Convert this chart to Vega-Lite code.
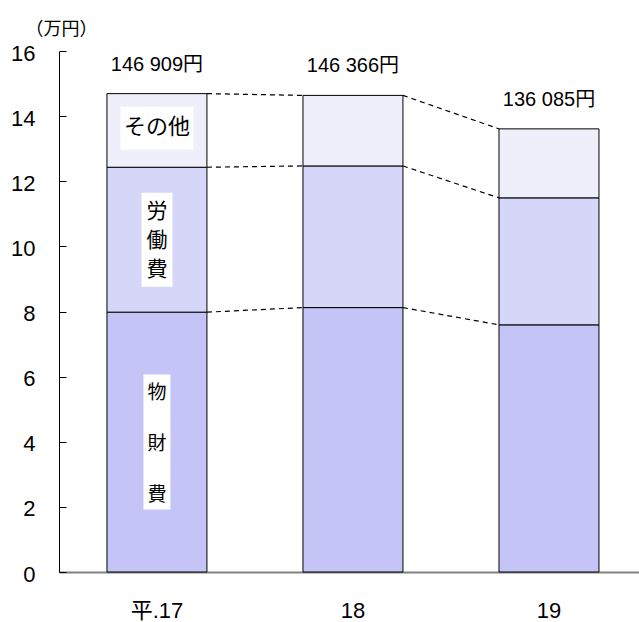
{
  "$schema": "https://vega.github.io/schema/vega-lite/v6.json",
  "width": 580,
  "height": 521,
  "autosize": {"type": "none"},
  "padding": {"left": 59, "top": 51, "right": 0, "bottom": 50},
  "background": "white",
  "config": {
    "view": {"stroke": null},
    "axis": {"grid": false},
    "axisY": {"titleFont": "Noto Sans CJK JP", "titleFontSize": 18, "titleFontWeight": "normal", "titleColor": "black"}
  },
  "datasets": {
    "costs": [
      {"year": 17, "item": "物財費", "order": 1, "value": 7.98},
      {"year": 17, "item": "労働費", "order": 2, "value": 4.45},
      {"year": 17, "item": "その他", "order": 3, "value": 2.2609},
      {"year": 18, "item": "物財費", "order": 1, "value": 8.12},
      {"year": 18, "item": "労働費", "order": 2, "value": 4.35},
      {"year": 18, "item": "その他", "order": 3, "value": 2.1666},
      {"year": 19, "item": "物財費", "order": 1, "value": 7.59},
      {"year": 19, "item": "労働費", "order": 2, "value": 3.9},
      {"year": 19, "item": "その他", "order": 3, "value": 2.1185}
    ],
    "totals": [
      {"year": 17, "total": 14.6909, "label": "146 909円"},
      {"year": 18, "total": 14.6366, "label": "146 366円"},
      {"year": 19, "total": 13.6085, "label": "136 085円"}
    ]
  },
  "layer": [
    {
      "data": {"name": "costs"},
      "mark": {"type": "bar", "stroke": "black", "strokeWidth": 1},
      "encoding": {
        "x": {
          "field": "year", "type": "ordinal",
          "scale": {"paddingInner": 0.49, "paddingOuter": 0.2245, "align": 0.545},
          "axis": {
            "title": null, "ticks": false, "labelAngle": 0,
            "labelExpr": "datum.value == 17 ? '平.17' : datum.label",
            "domainColor": "#808080", "domainWidth": 2,
            "labelFont": "Liberation Sans, Noto Sans CJK JP", "labelFontSize": 22,
            "labelColor": "black", "labelPadding": 28
          }
        },
        "y": {
          "field": "value", "type": "quantitative", "stack": "zero",
          "scale": {"domain": [0, 16], "nice": false},
          "axis": {
            "values": [0, 2, 4, 6, 8, 10, 12, 14, 16],
            "tickSize": -7, "tickColor": "black", "domainColor": "black",
            "labelFont": "Liberation Sans", "labelFontSize": 22, "labelColor": "black",
            "labelPadding": 31, "labelOffset": 2,
            "title": "（万円）", "titleAngle": 0, "titleX": 2, "titleY": -22,
            "titleAlign": "center", "titleBaseline": "middle",
            "titleFont": "Noto Sans CJK JP", "titleFontSize": 18, "titleFontWeight": "normal", "titleColor": "black"
          }
        },
        "color": {
          "field": "item", "type": "nominal", "legend": null,
          "scale": {"domain": ["物財費", "労働費", "その他"], "range": ["#c4c4f6", "#d6d6f9", "#efeffc"]}
        },
        "order": {"field": "order"}
      }
    },
    {
      "data": {"name": "costs"},
      "transform": [
        {"stack": "value", "groupby": ["year"], "sort": [{"field": "order"}], "as": ["y0", "y1"]},
        {"window": [{"op": "lead", "field": "y1", "as": "ny1"}, {"op": "lead", "field": "year", "as": "nyear"}], "groupby": ["item"], "sort": [{"field": "year"}]},
        {"filter": "datum.nyear != null"}
      ],
      "mark": {"type": "rule", "color": "black", "strokeWidth": 1.2, "strokeDash": [5, 4]},
      "encoding": {
        "x": {"field": "year", "type": "ordinal", "bandPosition": 1},
        "x2": {"field": "nyear", "bandPosition": 0},
        "y": {"field": "y1", "type": "quantitative"},
        "y2": {"field": "ny1"}
      }
    },
    {
      "data": {"name": "costs"},
      "transform": [
        {"stack": "value", "groupby": ["year"], "sort": [{"field": "order"}], "as": ["y0", "y1"]},
        {"filter": "datum.year == 17"},
        {"calculate": "(datum.y0 + datum.y1) / 2", "as": "mid"}
      ],
      "mark": {"type": "point", "filled": true, "color": "white", "opacity": 1, "strokeWidth": 0},
      "encoding": {
        "x": {"field": "year", "type": "ordinal"},
        "y": {"field": "mid", "type": "quantitative"},
        "shape": {
          "field": "item", "type": "nominal", "legend": null,
          "scale": {"domain": ["物財費", "労働費", "その他"], "range": ["M-0.2,-1H0.2V1H-0.2Z", "M-0.33,-1H0.33V1H-0.33Z", "M-1,-0.65H1V0.53H-1Z"]}
        },
        "size": {
          "field": "item", "type": "nominal", "legend": null,
          "scale": {"type": "ordinal", "domain": ["物財費", "労働費", "その他"], "range": [18225, 8836, 5329]}
        }
      }
    },
    {
      "data": {"name": "costs"},
      "transform": [
        {"stack": "value", "groupby": ["year"], "sort": [{"field": "order"}], "as": ["y0", "y1"]},
        {"filter": "datum.year == 17 && datum.item == 'その他'"},
        {"calculate": "(datum.y0 + datum.y1) / 2", "as": "mid"}
      ],
      "mark": {"type": "text", "font": "Noto Sans CJK JP", "fontSize": 22, "color": "black", "baseline": "middle", "dy": -3},
      "encoding": {
        "x": {"field": "year", "type": "ordinal"},
        "y": {"field": "mid", "type": "quantitative"},
        "text": {"field": "item"}
      }
    },
    {
      "data": {"name": "costs"},
      "transform": [
        {"stack": "value", "groupby": ["year"], "sort": [{"field": "order"}], "as": ["y0", "y1"]},
        {"filter": "datum.year == 17 && datum.item == '労働費'"},
        {"calculate": "(datum.y0 + datum.y1) / 2", "as": "mid"},
        {"calculate": "split(datum.item, '')", "as": "chars"}
      ],
      "mark": {"type": "text", "font": "Noto Sans CJK JP", "fontSize": 21, "lineHeight": 29, "color": "black", "baseline": "middle", "dy": -28},
      "encoding": {
        "x": {"field": "year", "type": "ordinal"},
        "y": {"field": "mid", "type": "quantitative"},
        "text": {"field": "chars"}
      }
    },
    {
      "data": {"name": "costs"},
      "transform": [
        {"stack": "value", "groupby": ["year"], "sort": [{"field": "order"}], "as": ["y0", "y1"]},
        {"filter": "datum.year == 17 && datum.item == '物財費'"},
        {"calculate": "(datum.y0 + datum.y1) / 2", "as": "mid"},
        {"calculate": "split(datum.item, '')", "as": "chars"}
      ],
      "mark": {"type": "text", "font": "Noto Sans CJK JP", "fontSize": 19, "lineHeight": 51, "color": "black", "baseline": "middle", "dy": -49},
      "encoding": {
        "x": {"field": "year", "type": "ordinal"},
        "y": {"field": "mid", "type": "quantitative"},
        "text": {"field": "chars"}
      }
    },
    {
      "data": {"name": "totals"},
      "mark": {"type": "text", "font": "Liberation Sans, Noto Sans CJK JP", "fontSize": 20, "color": "black", "baseline": "middle", "dy": -29},
      "encoding": {
        "x": {"field": "year", "type": "ordinal"},
        "y": {"field": "total", "type": "quantitative"},
        "text": {"field": "label"}
      }
    }
  ]
}
